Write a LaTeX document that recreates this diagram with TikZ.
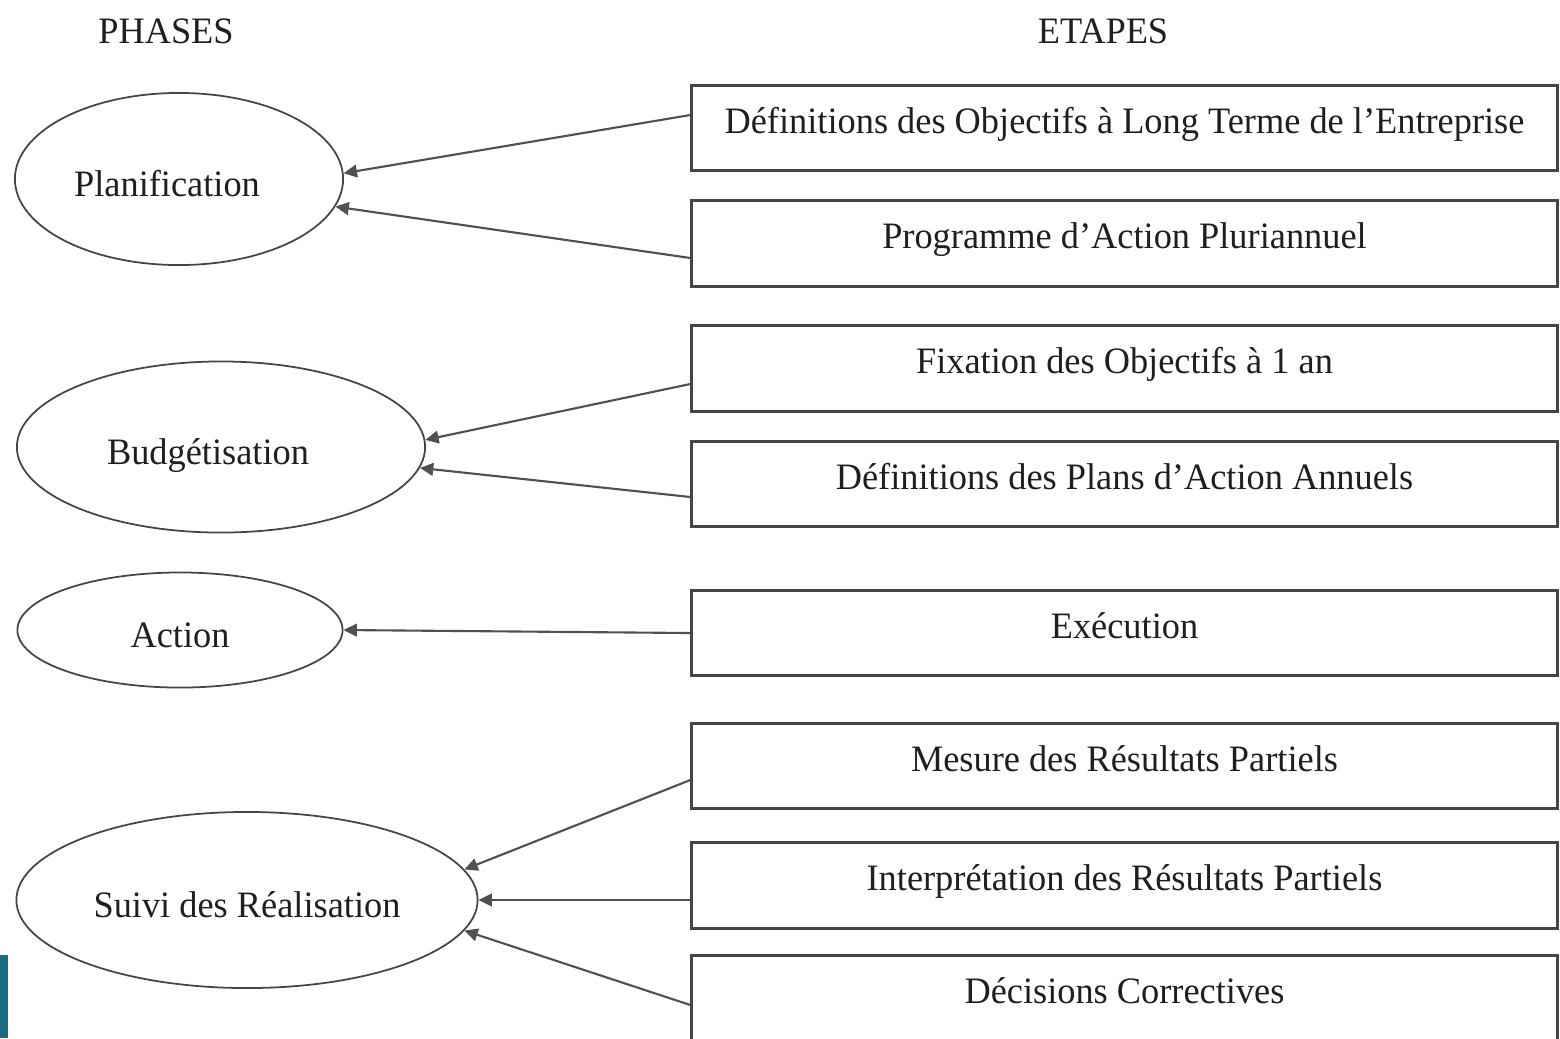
\documentclass[tikz,border=0pt]{standalone}
\usepackage{fontspec}
\setmainfont{Liberation Serif}[FakeStretch=0.975]
\usetikzlibrary{shapes.geometric,arrows.meta,calc}
\definecolor{linegray}{HTML}{454545}
\definecolor{arrgray}{HTML}{505050}
\definecolor{barblue}{HTML}{1C6A84}
\tikzset{
  txt/.style={font=\fontsize{10.6}{12}\selectfont, text=black!88},
  phase/.style={txt, ellipse, draw=linegray, line width=0.5pt, inner sep=0pt,
    text height=11pt, text depth=1pt},
  etape/.style={txt, rectangle, draw=linegray, line width=0.8pt, inner sep=0pt,
    minimum width=8.65cm, minimum height=0.855cm, text height=8pt, text depth=5pt},
  arr/.style={draw=arrgray, line width=0.6pt, -{Triangle[length=3.8pt,width=3.6pt]}},
  title/.style={txt}
}
\begin{document}
\begin{tikzpicture}[x=0.01cm, y=-0.01cm]
\useasboundingbox (0,0) rectangle (1560,1038);
\clip (0,0) rectangle (1560,1038);

% titles
\node[title] (tphases) at (166,31) {PHASES};
\node[title] (tetapes) at (1103,31) {ETAPES};

% phases
\node[phase, minimum width=3.28cm, minimum height=1.72cm] (plan) at (179,179) {\hspace*{-0.24cm}Planification};
\node[phase, minimum width=4.08cm, minimum height=1.71cm] (budg) at (221,447) {\hspace*{-0.26cm}Budgétisation};
\node[phase, minimum width=3.25cm, minimum height=1.15cm] (act) at (180,630) {Action};
\node[phase, minimum width=4.61cm, minimum height=1.76cm] (suivi) at (247,900) {Suivi des Réalisation};

% etapes
\node[etape] (b1) at (1124.5,128) {Définitions des Objectifs à Long Terme de l’Entreprise};
\node[etape] (b2) at (1124.5,243.5) {Programme d’Action Pluriannuel};
\node[etape] (b3) at (1124.5,368.5) {Fixation des Objectifs à 1 an};
\node[etape] (b4) at (1124.5,484) {Définitions des Plans d’Action Annuels};
\node[etape] (b5) at (1124.5,633) {Exécution};
\node[etape] (b6) at (1124.5,766) {Mesure des Résultats Partiels};
\node[etape] (b7) at (1124.5,885.5) {Interprétation des Résultats Partiels};
\node[etape] (b8) at (1124.5,998) {Décisions Correctives};

% connectors
\draw[arr] ($(b1.west)+(0,-13)$) -- (plan.2.5);
\draw[arr] ($(b2.west)+(0,14.5)$) -- (plan.-10.4);
\draw[arr] ($(b3.west)+(0,15.5)$) -- (budg.2);
\draw[arr] ($(b4.west)+(0,13)$) -- (budg.-6);
\draw[arr] (b5.west) -- (act.east);
\draw[arr] ($(b6.west)+(0,14)$) -- (suivi.8);
\draw[arr] ($(b7.west)+(0,14.5)$) -- (suivi.0);
\draw[arr] ($(b8.west)+(0,7)$) -- (suivi.-8.5);

% side bar
\fill[barblue] (0,955) rectangle (8,1038);
\end{tikzpicture}
\end{document}
